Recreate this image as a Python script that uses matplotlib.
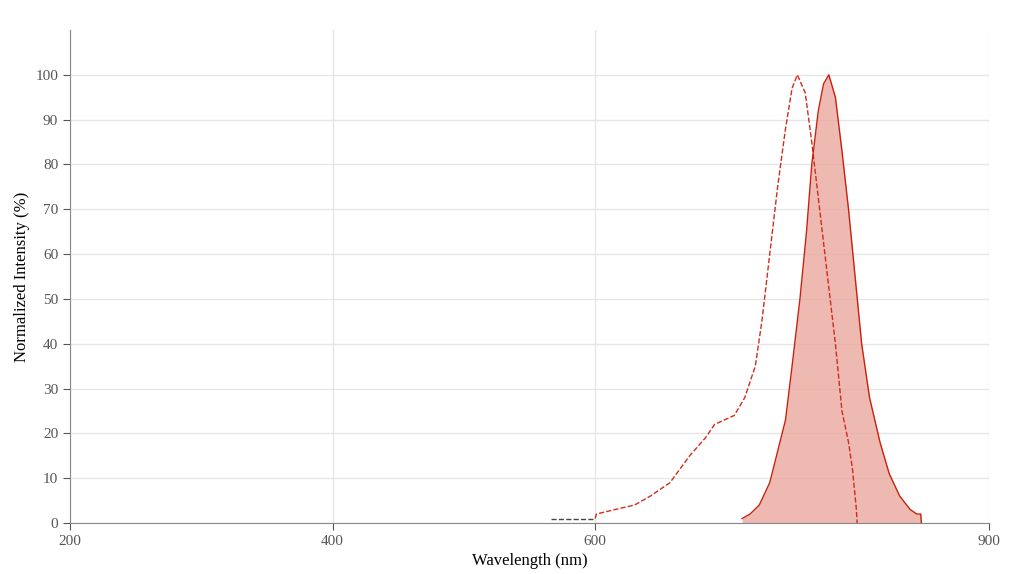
import matplotlib
matplotlib.use("Agg")
import matplotlib.pyplot as plt

ex_nm = [566,600,601,615,630,642,657,672,684,691,706,714,722,727,733,739,745,750,754,760,765,771,777,783,788,793,796,799,799.5]
ex_val = [1,1,2,3,4,6,9,15,19,22,24,28,35,45,60,75,88,97,100,96,85,70,55,40,25,18,12,3,0]
em_nm = [712,718,725,733,739,745,750,756,761,765,770,774,778,783,788,793,798,803,809,817,824,832,840,845,848,848.5]
em_val = [1,2,4,9,16,23,35,50,65,80,92,98,100,95,83,70,55,40,28,18,11,6,3,2,2,0]
xticks = [200,400,600,900]
yticks = list(range(0,101,10))

plt.rcParams['font.family'] = ['Liberation Serif']
fig = plt.figure(figsize=(10.1,5.74), dpi=100)
ax = fig.add_axes([70/1010, 1-523/574, 919/1010, 493/574])
ax.set_xlim(200,900); ax.set_ylim(0,110)
ax.set_xticks(xticks); ax.set_yticks(yticks)
ax.grid(True, color='#e6e6e6', lw=1)
ax.set_axisbelow(True)
for s in ['top','right']: ax.spines[s].set_visible(False)
for s in ['left','bottom']: ax.spines[s].set_color('#888888')
ax.tick_params(colors='#555555', labelsize=11, length=5)
ax.plot(ex_nm[:2], ex_val[:2], ls='--', color='#444444', lw=1)
ax.plot(ex_nm[1:], ex_val[1:], ls='--', color='#d42a1a', lw=1)
ax.fill_between(em_nm, em_val, color='#e9a89d', alpha=0.8, lw=0)
ax.plot(em_nm, em_val, color='#c8200f', lw=1)
ax.set_xlabel('Wavelength (nm)', fontsize=12)
ax.set_ylabel('Normalized Intensity (%)', fontsize=12)
fig.savefig('out.png', dpi=100)
